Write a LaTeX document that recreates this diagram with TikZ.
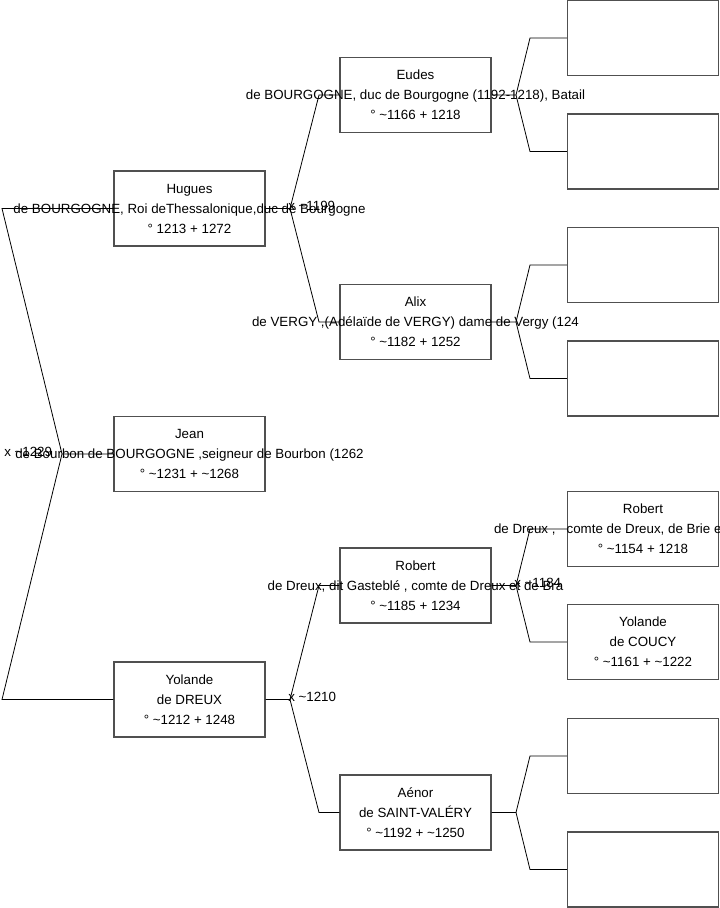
\documentclass[tikz,border=0pt]{standalone}
\usepackage{fontspec}
\setmainfont{Liberation Sans}
\usetikzlibrary{positioning}
\definecolor{boxline}{RGB}{80,80,80}
\tikzset{
  personbox/.style={draw=boxline, fill=white, line width=0.8pt, minimum width=113.25pt,
                    minimum height=56.25pt, inner sep=0pt, align=center,
                    font=\fontsize{10}{15}\selectfont},
  emptybox/.style={personbox},
  link/.style={draw=black, line width=0.6pt},
  marrlabel/.style={font=\fontsize{10}{12}\selectfont, inner sep=0pt, anchor=west}
}
\newcommand{\wideline}[1]{\makebox[0pt]{#1}}
\newcommand{\ca}{\textasciitilde}
\begin{document}
\begin{tikzpicture}[x=0.75pt, y=-0.75pt]
  \path[fill=white, use as bounding box] (0,0) rectangle (719,908);

  % Child
  \node[personbox] (jean) at (189.5,454)
        {Jean\\\wideline{de Bourbon de BOURGOGNE ,seigneur de Bourbon (1262}\\° \ca1231 + \ca1268};

  % Parents
  \node[personbox] (hugues) at (189.5,208.5)
        {Hugues\\\wideline{de BOURGOGNE, Roi deThessalonique,duc de Bourgogne}\\° 1213 + 1272};
  \node[personbox] (yolande) at (189.5,699.5)
        {Yolande\\de DREUX\\° \ca1212 + 1248};

  % Grand-parents
  \node[personbox] (eudes) at (415.5,95)
        {Eudes\\\wideline{de BOURGOGNE, duc de Bourgogne (1192-1218), Batail}\\° \ca1166 + 1218};
  \node[personbox] (alix) at (415.5,322)
        {Alix\\\wideline{de VERGY ,(Adélaïde de VERGY) dame de Vergy (124}\\° \ca1182 + 1252};
  \node[personbox] (robert) at (415.5,585.5)
        {Robert\\\wideline{de Dreux, dit Gasteblé , comte de Dreux et de Bra}\\° \ca1185 + 1234};
  \node[personbox] (aenor) at (415.5,812.5)
        {Aénor\\de SAINT-VALÉRY\\° \ca1192 + \ca1250};

  % Great-grand-parents
  \node[emptybox] (eudesfa) at (643,38) {};
  \node[emptybox] (eudesmo) at (643,151.5) {};
  \node[emptybox] (alixfa) at (643,265) {};
  \node[emptybox] (alixmo) at (643,378.5) {};
  \node[personbox] (robertfa) at (643,529)
        {Robert\\\makebox[0pt][l]{\hspace{-111.75pt}de Dreux ,\ \ \ comte de Dreux, de Brie et de}\\° \ca1154 + 1218};
  \node[personbox] (robertmo) at (643,642)
        {Yolande\\de COUCY\\° \ca1161 + \ca1222};
  \node[emptybox] (aenorfa) at (643,756) {};
  \node[emptybox] (aenormo) at (643,869.5) {};

  % Forks
  \coordinate (jeanx) at (62,454);
  \draw[link] (jean.west) -- (jeanx) -- (2,208.5) -- (hugues.west);
  \draw[link] (jeanx) -- (2,699.5) -- (yolande.west);
  \node[marrlabel] (jeanm) at (4,452) {x \ca1229};

  \coordinate (huguesx) at (290,208.5);
  \draw[link] (hugues.east) -- (huguesx) -- (319,95) -- (eudes.west);
  \draw[link] (huguesx) -- (319,322) -- (alix.west);
  \node[marrlabel] (huguesm) at (288,206) {x \ca1199};

  \coordinate (yolandex) at (290,699.5);
  \draw[link] (yolande.east) -- (yolandex) -- (319,585.5) -- (robert.west);
  \draw[link] (yolandex) -- (319,812.5) -- (aenor.west);
  \node[marrlabel] (yolandem) at (288,697) {x \ca1210};

  \coordinate (eudesx) at (516,95);
  \draw[link] (eudes.east) -- (eudesx) -- (530,38) -- (eudesfa.west);
  \draw[link] (eudesx) -- (530,151.5) -- (eudesmo.west);

  \coordinate (alixx) at (516,322);
  \draw[link] (alix.east) -- (alixx) -- (530,265) -- (alixfa.west);
  \draw[link] (alixx) -- (530,378.5) -- (alixmo.west);

  \coordinate (robertx) at (516,585.5);
  \draw[link] (robert.east) -- (robertx) -- (530,529) -- (robertfa.west);
  \draw[link] (robertx) -- (530,642) -- (robertmo.west);
  \node[marrlabel] (robertm) at (514,583) {x \ca1184};

  \coordinate (aenorx) at (516,812.5);
  \draw[link] (aenor.east) -- (aenorx) -- (530,756) -- (aenorfa.west);
  \draw[link] (aenorx) -- (530,869.5) -- (aenormo.west);
\end{tikzpicture}
\end{document}
